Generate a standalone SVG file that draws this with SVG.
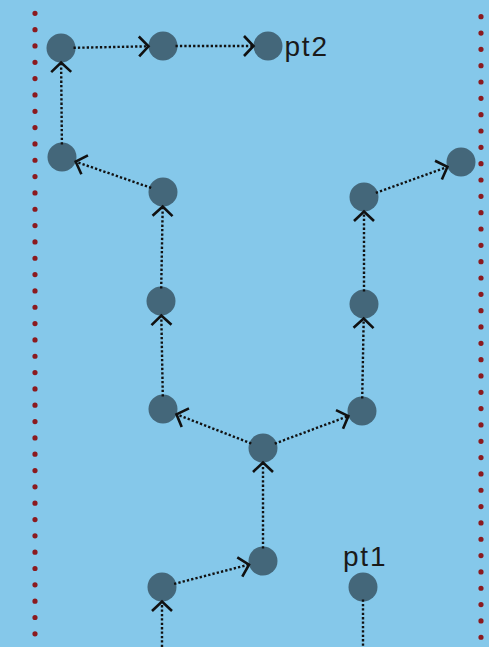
<svg xmlns="http://www.w3.org/2000/svg" width="489" height="647" viewBox="0 0 489 647">
  <defs>
    <marker id="arrow" markerUnits="userSpaceOnUse" markerWidth="26" markerHeight="26" viewBox="-13 -13 26 26" refX="0" refY="0" orient="auto" overflow="visible">
      <path d="M-9.5,-10 L0,0 L-9.5,10" fill="none" stroke="#111" stroke-width="2.6"/>
    </marker>
    <style>
      .bound { stroke: #8b1a1f; stroke-width: 5.2; stroke-linecap: round; stroke-dasharray: 0 16.33; fill: none; }
      .node { fill: #44677a; }
      .edge { stroke: #111; stroke-width: 2.4; stroke-dasharray: 2.3 2.1; fill: none; }
      .arr { marker-end: url(#arrow); }
      .label { font-family: "Liberation Sans", Arial, sans-serif; font-size: 28px; fill: #1a1a1a; letter-spacing: 1.8px; }
    </style>
  </defs>

  <rect x="0" y="0" width="489" height="647" fill="#85c8ea"/>

  <!-- boundaries -->
  <g id="boundaries">
    <line class="bound" x1="35" y1="13.3" x2="35" y2="660"/>
    <line class="bound" x1="481" y1="16.7" x2="481" y2="660"/>
  </g>

  <!-- nodes -->
  <g id="nodes">
    <g id="nA"><circle class="node" cx="61" cy="48" r="14.5"/></g>
    <g id="nB"><circle class="node" cx="163" cy="46" r="14.5"/></g>
    <g id="pt2"><circle class="node" cx="268" cy="46" r="14.5"/><text class="label" x="284.5" y="56">pt2</text></g>
    <g id="nC"><circle class="node" cx="62" cy="157" r="14.5"/></g>
    <g id="nD"><circle class="node" cx="163" cy="192" r="14.5"/></g>
    <g id="nE"><circle class="node" cx="461" cy="162" r="14.5"/></g>
    <g id="nF"><circle class="node" cx="364" cy="197" r="14.5"/></g>
    <g id="nG"><circle class="node" cx="161" cy="301" r="14.5"/></g>
    <g id="nH"><circle class="node" cx="364" cy="304" r="14.5"/></g>
    <g id="nI"><circle class="node" cx="163" cy="409" r="14.5"/></g>
    <g id="nJ"><circle class="node" cx="362" cy="411" r="14.5"/></g>
    <g id="nK"><circle class="node" cx="263" cy="448" r="14.5"/></g>
    <g id="nL"><circle class="node" cx="263" cy="561" r="14.5"/></g>
    <g id="nM"><circle class="node" cx="162" cy="587" r="14.5"/></g>
    <g id="pt1"><circle class="node" cx="363" cy="587" r="14.5"/><text class="label" x="343" y="565.5">pt1</text></g>
  </g>

  <!-- connectors -->
  <g id="connectors">
    <line class="edge arr" x1="162" y1="647" x2="162" y2="601.5"/>
    <line class="edge arr" x1="174.1" y1="583.9" x2="249" y2="564.6"/>
    <line class="edge arr" x1="263" y1="548.5" x2="263" y2="462.5"/>
    <line class="edge arr" x1="251.3" y1="443.5" x2="176.5" y2="414.3"/>
    <line class="edge arr" x1="274.7" y1="443.6" x2="348.4" y2="416.1"/>
    <line class="edge arr" x1="162.8" y1="396.5" x2="161.3" y2="315.5"/>
    <line class="edge arr" x1="161.2" y1="288.5" x2="162.7" y2="206.5"/>
    <line class="edge arr" x1="151.2" y1="187.9" x2="75.7" y2="161.7"/>
    <line class="edge arr" x1="61.9" y1="144.5" x2="61.1" y2="62.5"/>
    <line class="edge arr" x1="73.5" y1="47.8" x2="148.5" y2="46.3"/>
    <line class="edge arr" x1="175.5" y1="46" x2="253.5" y2="46"/>
    <line class="edge arr" x1="362.2" y1="398.5" x2="363.7" y2="318.5"/>
    <line class="edge arr" x1="364" y1="291.5" x2="364" y2="211.5"/>
    <line class="edge arr" x1="375.8" y1="192.8" x2="447.4" y2="166.9"/>
    <line class="edge" x1="363" y1="599.5" x2="363" y2="647"/>
  </g>
</svg>
